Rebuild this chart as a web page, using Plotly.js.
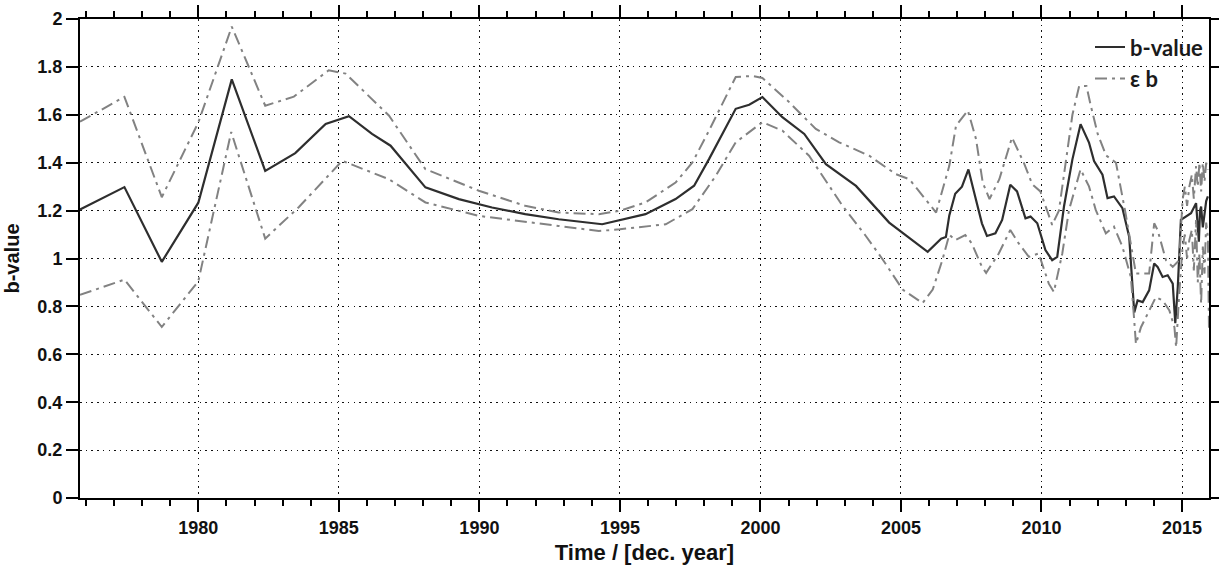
<!DOCTYPE html>
<html>
<head>
<meta charset="utf-8">
<script src="https://cdn.plot.ly/plotly-3.0.1.min.js"></script>
<style>html,body{margin:0;padding:0;background:#fff;}#chart{width:1219px;height:570px;}</style>
</head>
<body>
<div id="chart"></div>
<script>
// b-value series
const bTime = [1975.79,1977.37,1978.70,1980.0,1981.19,1982.38,1983.45,1984.53,1985.36,1986.18,1986.84,1988.08,1989.27,1990.45,1991.63,1992.82,1994.37,1995.0,1995.91,1996.98,1997.64,1998.17,1999.12,1999.60,2000.07,2000.78,2001.56,2002.33,2003.40,2004.58,2005.95,2006.43,2006.60,2006.72,2006.93,2007.17,2007.40,2007.64,2007.88,2008.06,2008.36,2008.60,2008.89,2009.13,2009.43,2009.61,2009.85,2010.14,2010.38,2010.56,2010.80,2011.10,2011.39,2011.69,2011.87,2012.17,2012.35,2012.58,2012.88,2013.12,2013.21,2013.30,2013.42,2013.60,2013.83,2014.01,2014.13,2014.31,2014.49,2014.67,2014.76,2014.85,2014.96,2015.14,2015.32,2015.50,2015.56,2015.60,2015.64,2015.68,2015.74,2015.80,2015.86,2015.92];
const bValue = [1.205,1.298,0.986,1.233,1.748,1.366,1.44,1.562,1.594,1.520,1.471,1.297,1.248,1.213,1.185,1.164,1.143,1.161,1.185,1.248,1.304,1.415,1.625,1.642,1.674,1.590,1.520,1.394,1.303,1.150,1.028,1.083,1.09,1.18,1.27,1.30,1.372,1.259,1.147,1.094,1.105,1.161,1.308,1.280,1.168,1.175,1.147,1.035,0.993,1.007,1.217,1.414,1.561,1.484,1.407,1.350,1.252,1.259,1.210,1.091,0.937,0.775,0.825,0.818,0.867,0.979,0.965,0.923,0.930,0.895,0.73,0.881,1.161,1.175,1.189,1.231,1.15,1.07,1.20,1.217,1.13,1.175,1.24,1.259];

// upper epsilon-b bound
const upTime = [1975.79,1977.37,1978.70,1980.0,1981.19,1982.38,1983.40,1984.64,1985.24,1986.78,1988.08,1989.98,1991.63,1992.82,1994.25,1995.0,1995.91,1996.98,1997.58,1998.17,1999.12,1999.71,2000.07,2001.02,2001.97,2002.80,2003.87,2004.82,2005.30,2006.25,2006.72,2006.96,2007.38,2007.67,2007.91,2008.15,2008.50,2008.95,2009.37,2009.67,2009.96,2010.38,2010.62,2010.86,2011.10,2011.34,2011.60,2011.75,2012.0,2012.3,2012.65,2012.99,2013.24,2013.36,2013.83,2014.01,2014.13,2014.43,2014.67,2014.90,2015.02,2015.10,2015.18,2015.26,2015.35,2015.42,2015.50,2015.56,2015.62,2015.68,2015.74,2015.80,2015.86,2015.92];
const upValue = [1.571,1.675,1.256,1.568,1.968,1.638,1.676,1.786,1.772,1.597,1.373,1.283,1.220,1.192,1.185,1.199,1.234,1.317,1.401,1.534,1.758,1.762,1.754,1.653,1.541,1.485,1.429,1.352,1.331,1.192,1.387,1.555,1.618,1.499,1.317,1.248,1.331,1.505,1.40,1.31,1.28,1.14,1.20,1.40,1.60,1.72,1.72,1.64,1.52,1.43,1.40,1.189,1.021,0.937,0.937,1.147,1.119,0.993,0.965,0.993,1.245,1.30,1.22,1.30,1.35,1.25,1.386,1.30,1.40,1.28,1.40,1.32,1.40,1.37];

// lower epsilon-b bound
const loTime = [1975.79,1977.37,1978.70,1980.0,1981.17,1982.38,1983.58,1985.12,1986.78,1988.08,1989.98,1991.63,1992.82,1994.25,1995.0,1996.63,1997.58,1998.41,1999.12,2000.07,2000.78,2001.73,2002.92,2003.75,2004.35,2005.06,2005.77,2006.13,2006.48,2006.72,2006.93,2007.29,2007.52,2007.88,2008.03,2008.48,2008.89,2009.19,2009.55,2009.90,2010.26,2010.44,2010.74,2010.98,2011.39,2011.69,2011.93,2012.29,2012.58,2012.88,2013.18,2013.30,2013.36,2013.54,2013.83,2014.07,2014.31,2014.55,2014.73,2014.79,2014.90,2015.02,2015.10,2015.18,2015.26,2015.35,2015.42,2015.50,2015.56,2015.62,2015.68,2015.74,2015.80,2015.86,2015.92,2015.96];
const loValue = [0.848,0.912,0.714,0.905,1.528,1.083,1.215,1.408,1.331,1.234,1.178,1.152,1.136,1.115,1.122,1.143,1.206,1.345,1.485,1.569,1.534,1.429,1.220,1.094,0.996,0.870,0.814,0.870,0.996,1.10,1.077,1.098,1.063,0.965,0.94,1.021,1.119,1.063,1.007,1.021,0.895,0.860,1.021,1.203,1.372,1.301,1.203,1.105,1.133,1.049,0.923,0.741,0.643,0.713,0.783,0.839,0.825,0.783,0.713,0.629,0.853,1.049,1.10,1.00,1.077,1.12,0.95,1.161,0.90,1.021,0.811,1.05,0.937,1.15,1.091,0.70];

const legendNames = ["b-value", "ε b"];
const xTitle = "Time / [dec. year]";
const yTitle = "b-value";

const narrowFamily = "'Liberation Sans Narrow', 'Arial Narrow', 'Liberation Sans', Arial, sans-serif";
const tickFont = {family: narrowFamily, size: 18, color: "#111", weight: "bold"};
const epsLine = {color: "#828282", width: 2, dash: "12px,5px,3px,5px"};

const traces = [
  {x: bTime, y: bValue, name: legendNames[0], type: "scatter", mode: "lines",
   line: {color: "#2e2e2e", width: 2.2}},
  {x: upTime, y: upValue, name: legendNames[1], type: "scatter", mode: "lines",
   line: epsLine, legendgroup: "eps"},
  {x: loTime, y: loValue, name: legendNames[1], type: "scatter", mode: "lines",
   line: epsLine, legendgroup: "eps", showlegend: false}
];

const axisCommon = {
  showline: true, linecolor: "#000", linewidth: 2, mirror: "ticks",
  ticks: "outside", tickcolor: "#000", tickwidth: 2, ticklen: 12,
  showgrid: true, gridcolor: "#111", gridwidth: 1, griddash: "1.5px,4.2px",
  zeroline: false, tickfont: tickFont
};

const layout = {
  width: 1219, height: 570,
  margin: {l: 80, r: 10, t: 19, b: 72},
  paper_bgcolor: "#fff", plot_bgcolor: "#fff",
  showlegend: true,
  legend: {x: 1.0, xanchor: "right", y: 0.985, yanchor: "top", bgcolor: "rgba(0,0,0,0)",
           font: {family: "Lato, 'Open Sans', sans-serif", size: 22, color: "#1a1a1a", weight: "bold"},
           tracegroupgap: 0, itemwidth: 30},
  xaxis: Object.assign({}, axisCommon, {
    range: [1975.79, 2015.96], tick0: 1980, dtick: 5, tickmode: "linear",
    minor: {dtick: 1, ticks: "outside", ticklen: 6, tickwidth: 2, tickcolor: "#000", showgrid: false},
    title: {text: xTitle, standoff: 8, font: {family: narrowFamily, size: 22, color: "#111", weight: "bold"}}
  }),
  yaxis: Object.assign({}, axisCommon, {
    range: [0, 2], tick0: 0, dtick: 0.2, tickmode: "linear",
    title: {text: yTitle, standoff: 12, font: {family: "'Liberation Sans', Arial, sans-serif", size: 20, color: "#111", weight: "bold"}}
  })
};

Plotly.newPlot("chart", traces, layout, {displayModeBar: false, staticPlot: true});
</script>
</body>
</html>
